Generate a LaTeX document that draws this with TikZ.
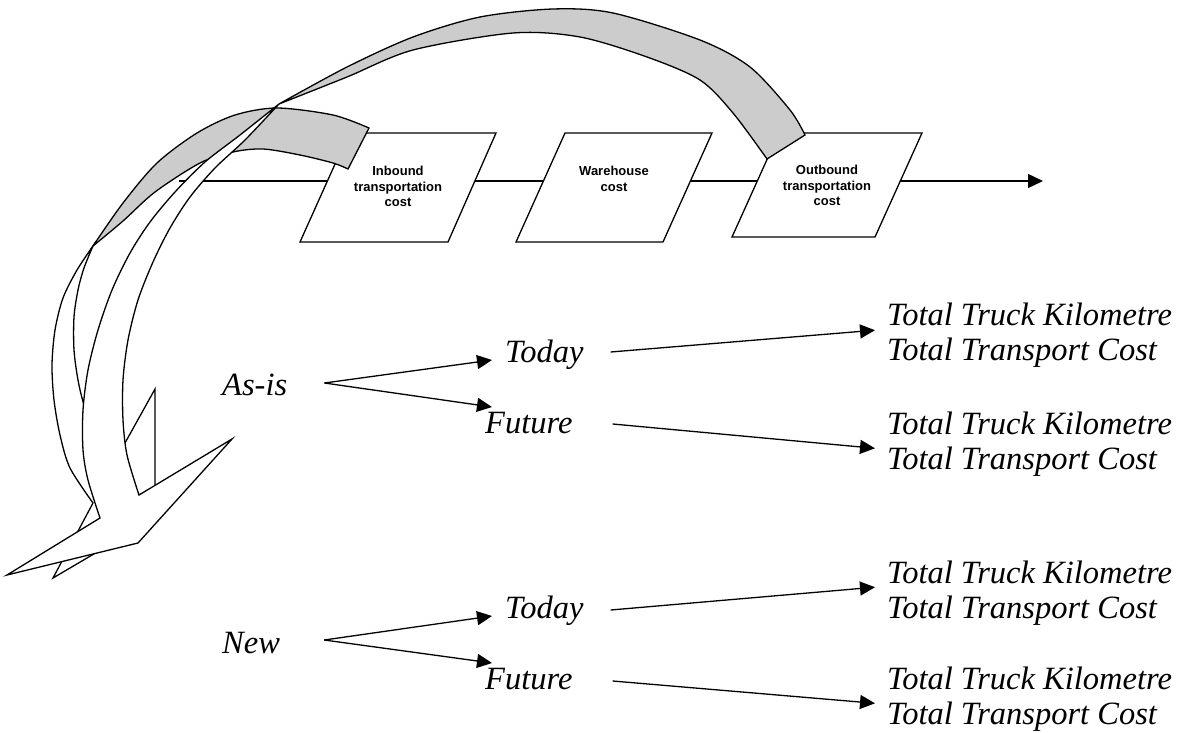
\documentclass[tikz,border=0pt]{standalone}
\usepackage{fontspec}
\newfontfamily\serifit{Liberation Serif}
\newfontfamily\boxsans{Liberation Sans}
\usetikzlibrary{arrows.meta}
\definecolor{backgray}{RGB}{204,204,204}

\begin{document}
\begin{tikzpicture}[x=1pt,y=-1pt,
  flowbox/.style={draw=black, line width=1.3pt, fill=white, line join=miter},
  ribbon/.style={draw=black, line width=1.3pt, fill=white, line join=miter},
  ribbonback/.style={draw=black, line width=1.3pt, fill=backgray, line join=miter},
  boxtext/.style={font=\boxsans\bfseries\fontsize{13}{15.5}\selectfont, align=center, inner sep=0pt, anchor=north},
  lbl/.style={font=\serifit\itshape\fontsize{32.5}{35}\selectfont, inner sep=0pt, anchor=west, text height=21pt, text depth=0pt},
  arr/.style={line width=1.3pt, -{Triangle[length=15pt,width=14pt]}},
]
\fill[white] (0,0) rectangle (1180,733);
\useasboundingbox (0,0) rectangle (1180,733);

% cost chain
\coordinate (flowStart) at (179,181);
\coordinate (flowEnd) at (1043,181);
\draw[arr] (flowStart) -- (flowEnd);

\draw[flowbox] (300,242) -- (349,133) -- (496,133) -- (448,242) -- cycle;
\node[boxtext] (inbound) at (398,166) {Inbound\\transportation\\cost};
\draw[flowbox] (516,242) -- (565,133) -- (712,133) -- (663,242) -- cycle;
\node[boxtext] (warehouse) at (614,166) {Warehouse\\cost};
\draw[flowbox] (732,237) -- (779,133) -- (922,133) -- (875,237) -- cycle;
\node[boxtext] (outbound) at (827,165) {Outbound\\transportation\\cost};

% ribbon arrow leaving the inbound step (front side, then back side)
\path[ribbon] plot[smooth] coordinates {(93,246) (77,270) (63,298) (55,330) (52,365) (54,400) (60,435) (70,468) (93,503)}
  -- (53,578) -- (155,518) -- (155,389) -- (110,470)
  -- plot[smooth] coordinates {(110,470) (96,440) (84,405) (78,380) (74,350) (74,317) (78,290) (84,268) (93,246)} -- cycle;
\path[ribbonback] plot[smooth] coordinates {(369,128) (333,115) (277,108) (235,115) (197,133) (157,163) (123,203) (93,246)}
  -- plot[smooth] coordinates {(93,246) (123,221) (155,192) (200,163) (233,152) (263,149) (300,155) (333,163) (348,169)} -- cycle;

% ribbon arrow leaving the outbound step
\path[ribbon] plot[smooth] coordinates {(279,104) (240,135) (205,162) (175,192) (150,222) (130,253) (112,290) (98,330) (88,370) (83,410) (83,450) (88,480) (100,518)}
  -- (7,575) -- (138,543) -- (232,439) -- (139,495)
  -- plot[smooth] coordinates {(139,495) (127,455) (123,420) (123,380) (128,340) (138,300) (153,262) (170,228) (190,197) (215,168) (245,140) (279,104)} -- cycle;
\path[ribbonback] plot[smooth] coordinates {(805,135) (790,110) (750,67) (700,40) (613,13) (553,9) (480,17) (413,37) (347,67) (279,104)}
  -- plot[smooth] coordinates {(279,104) (347,77) (413,50) (513,33) (580,37) (647,57) (700,80) (733,113) (767,159)} -- cycle;

% scenario tree: as-is
\node[lbl] (asis) at (222,385) {As-is};
\node[lbl] (today1) at (505,352) {Today};
\node[lbl] (future1) at (485,423) {Future};
\node[lbl] (ttk1) at (887,315) {Total Truck Kilometre};
\node[lbl] (ttc1) at (887,350) {Total Transport Cost};
\node[lbl] (ttk2) at (887,424) {Total Truck Kilometre};
\node[lbl] (ttc2) at (887,459) {Total Transport Cost};
\draw[arr] ([xshift=37pt,yshift=2pt]asis.east) -- ([xshift=-13pt,yshift=-8pt]today1.west);
\draw[arr] ([xshift=37pt,yshift=2pt]asis.east) -- ([xshift=7pt,yshift=16pt]future1.west);
\draw[arr] ([xshift=27pt]today1.east) -- ([xshift=-12pt,yshift=-4.5pt]ttk1.south west);
\draw[arr] ([xshift=40pt,yshift=-1pt]future1.east) -- ([xshift=-12pt]ttc2.north west);

% scenario tree: new
\node[lbl] (new) at (222,643) {New};
\node[lbl] (today2) at (505,608) {Today};
\node[lbl] (future2) at (485,679) {Future};
\node[lbl] (ttk3) at (887,573) {Total Truck Kilometre};
\node[lbl] (ttc3) at (887,608) {Total Transport Cost};
\node[lbl] (ttk4) at (887,679) {Total Truck Kilometre};
\node[lbl] (ttc4) at (887,714) {Total Transport Cost};
\draw[arr] ([xshift=44pt,yshift=3pt]new.east) -- ([xshift=-13pt,yshift=-8pt]today2.west);
\draw[arr] ([xshift=44pt,yshift=3pt]new.east) -- ([xshift=7pt,yshift=16pt]future2.west);
\draw[arr] ([xshift=27pt,yshift=-2pt]today2.east) -- ([xshift=-12pt,yshift=-3.5pt]ttk3.south west);
\draw[arr] ([xshift=40pt,yshift=-2pt]future2.east) -- ([xshift=-12pt]ttc4.north west);
\end{tikzpicture}
\end{document}
